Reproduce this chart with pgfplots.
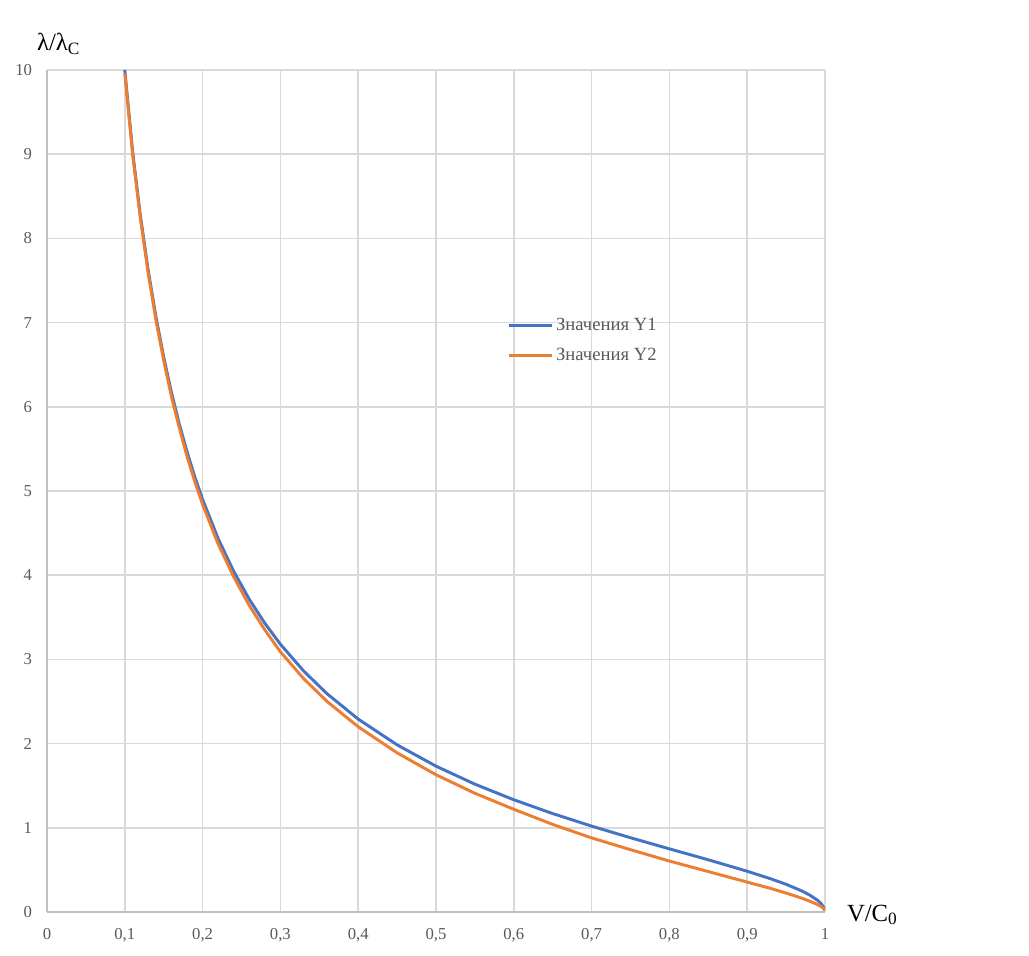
\documentclass[border=0pt]{standalone}
\usepackage{pgfplots}
\pgfplotsset{compat=1.18}
\usepackage{fontspec}
\setmainfont{Liberation Serif}
\definecolor{exblue}{HTML}{4472C4}
\definecolor{exorange}{HTML}{ED7D31}
\definecolor{gridc}{HTML}{D9D9D9}
\definecolor{axc}{HTML}{BFBFBF}
\definecolor{tickc}{HTML}{595959}
\begin{document}
\begin{tikzpicture}
\path[use as bounding box] (0pt,0pt) rectangle (771.75pt,717pt);
\begin{axis}[
  at={(35.25pt,33pt)}, anchor=south west,
  scale only axis, width=583.5pt, height=631.5pt,
  xmin=0, xmax=1, ymin=0, ymax=10,
  xtick={0,0.1,...,1.01}, ytick={0,1,...,10},
  xticklabels={0,{0,1},{0,2},{0,3},{0,4},{0,5},{0,6},{0,7},{0,8},{0,9},1},
  major tick length=0pt,
  grid=major,
  grid style={draw=gridc, line width=1.3pt},
  axis x line*=bottom, axis y line*=left,
  axis line style={draw=axc, line width=1.5pt, -},
  /pgf/number format/assume math mode=true,
  ticklabel style={font=\fontsize{12.5}{14}\selectfont, text=tickc},
  yticklabel style={inner sep=0pt, anchor=east, xshift=-11pt},
  xticklabel style={inner sep=0pt, anchor=north, yshift=-12pt},
  legend style={at={(rel axis cs:0.592,0.709)}, anchor=north west, draw=none, fill=none,
    font=\fontsize{14}{16}\selectfont, text=tickc, row sep=8pt, inner sep=0pt},
  legend cell align=left,
  legend image code/.code={\draw[#1] (0pt,0pt) -- (32pt,0pt);},
  clip mode=individual,
]
\addplot[exblue, line width=2.2pt, line join=round] coordinates {
(0.1,10.0) (0.11,9.036) (0.12,8.273) (0.13,7.627) (0.14,7.072) (0.15,6.591)
(0.16,6.170) (0.17,5.797) (0.18,5.465) (0.19,5.167) (0.2,4.899) (0.22,4.434)
(0.24,4.045) (0.26,3.714) (0.28,3.429) (0.3,3.180) (0.33,2.861) (0.36,2.592)
(0.4,2.291) (0.45,1.985) (0.5,1.732) (0.55,1.518) (0.6,1.333) (0.65,1.169)
(0.7,1.020) (0.75,0.882) (0.8,0.750) (0.85,0.620) (0.9,0.484) (0.93,0.395)
(0.95,0.329) (0.97,0.251) (0.98,0.203) (0.99,0.142) (0.995,0.100) (0.999,0.045) (1,0.02)
};
\addlegendentry{Значения Y1}
\addplot[exorange, line width=2.2pt, line join=round] coordinates {
(0.1,9.96) (0.11,9.00) (0.12,8.24) (0.13,7.59) (0.14,7.03) (0.15,6.55)
(0.16,6.12) (0.17,5.75) (0.18,5.41) (0.19,5.11) (0.2,4.84) (0.22,4.37)
(0.24,3.98) (0.26,3.64) (0.28,3.35) (0.3,3.09) (0.33,2.77) (0.36,2.50)
(0.4,2.20) (0.45,1.89) (0.5,1.63) (0.55,1.41) (0.6,1.22) (0.65,1.04)
(0.7,0.88) (0.75,0.74) (0.8,0.605) (0.85,0.48) (0.9,0.355) (0.93,0.28)
(0.95,0.225) (0.97,0.165) (0.98,0.13) (0.99,0.09) (0.995,0.065) (0.999,0.035) (1,0.02)
};
\addlegendentry{Значения Y2}
\node[anchor=base west, inner sep=0pt, font=\fontsize{18.5}{20}\selectfont] at (rel axis cs:-0.013,1.0226) {λ/λ\textsubscript{C}};
\node[anchor=base west, inner sep=0pt, font=\fontsize{18.5}{20}\selectfont] at (rel axis cs:1.028,-0.0107) {V/C\textsubscript{0}};
\end{axis}
\end{tikzpicture}
\end{document}
